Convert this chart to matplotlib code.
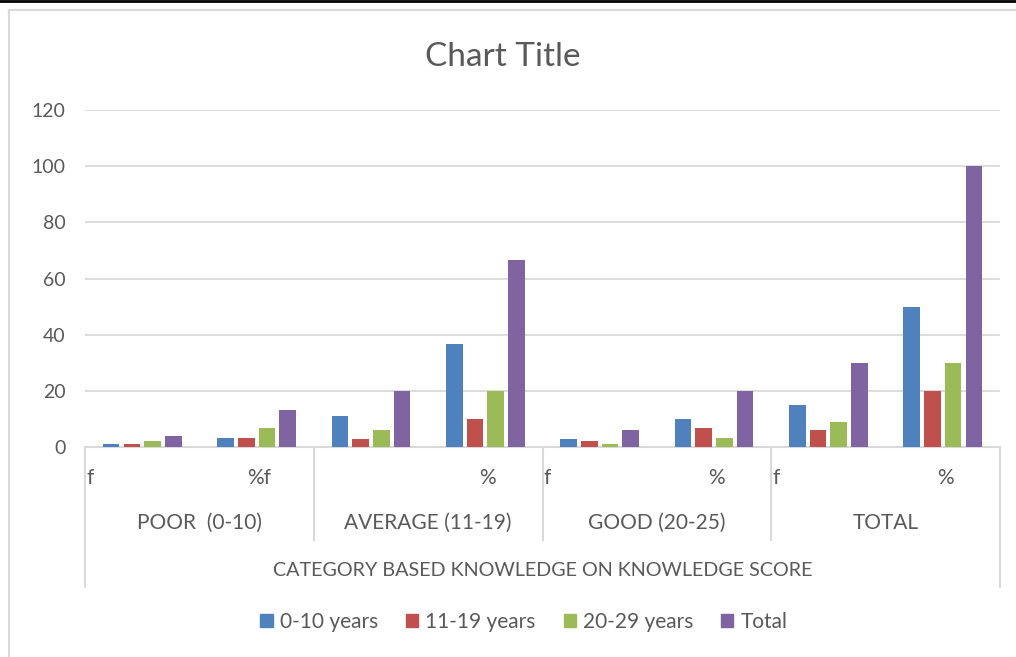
import numpy as np
import matplotlib.pyplot as plt
from matplotlib.lines import Line2D
from matplotlib.patches import Patch

plt.rcParams['font.family'] = ['Lato', 'DejaVu Sans']

# -----------------------------
# Data
# -----------------------------
level1 = ["f", "%f", "", "%", "f", "%", "f", "%"]
level2 = ["POOR  (0-10)", "AVERAGE (11-19)", "GOOD (20-25)", "TOTAL"]
level3 = "CATEGORY BASED KNOWLEDGE ON KNOWLEDGE SCORE"

series_names = ["0-10 years", "11-19 years", "20-29 years", "Total"]
yrs_0_10 = [1, 3.3, 11, 36.7, 3, 10, 15, 50]
yrs_11_19 = [1, 3.3, 3, 10, 2, 6.7, 6, 20]
yrs_20_29 = [2, 6.7, 6, 20, 1, 3.3, 9, 30]
total = [4, 13.3, 20, 66.7, 6, 20, 30, 100]

colors = ["#4F81BD", "#C0504D", "#9BBB59", "#8064A2"]
txt = "#595959"
grid_c = "#D9D9D9"

# -----------------------------
# Figure
# -----------------------------
W, H = 1016, 657
fig = plt.figure(figsize=(W / 100, H / 100), dpi=100)
ax = fig.add_axes([85 / W, (H - 447) / H, (1000 - 85) / W, (447 - 110) / H])

x = np.arange(len(level1))
step, width = 0.181, 0.145
for k, (vals, c) in enumerate(zip([yrs_0_10, yrs_11_19, yrs_20_29, total], colors)):
    ax.bar(x + (k - 1.5) * step, vals, width=width, color=c, label=series_names[k], zorder=3)

ax.set_xlim(-0.5, len(level1) - 0.5)
ax.set_ylim(0, 120)
ax.set_yticks(range(0, 121, 20))
ax.yaxis.grid(True, color=grid_c, linewidth=1.3, zorder=0)
ax.tick_params(axis="y", length=0, pad=14, labelsize=14, labelcolor=txt)
ax.set_xticks([])
for s in ["top", "right", "left"]:
    ax.spines[s].set_visible(False)
ax.spines["bottom"].set_color(grid_c)
ax.spines["bottom"].set_linewidth(1.5)

# multi-level category axis
tr = ax.get_xaxis_transform()
ax_h = 447 - 110
y_inner = -(540 - 447) / ax_h
y_outer = -(587 - 447) / ax_h
for b in [-0.5, 1.5, 3.5, 5.5, 7.5]:
    y_end = y_outer if b in (-0.5, 7.5) else y_inner
    ax.plot([b, b], [0, y_end], transform=tr, color=grid_c, lw=1.5, clip_on=False)

fs = 15
y1 = -(478 - 447) / ax_h
for i, lab in enumerate(level1):
    if lab == "f":
        ax.text(i - 0.5 + 0.01, y1, lab, transform=tr, ha="left", va="center",
                fontsize=fs, color=txt)
    else:
        ax.text(i + 0.02, y1, lab, transform=tr, ha="center", va="center",
                fontsize=fs, color=txt)

y2 = -(523 - 447) / ax_h
for j, lab in enumerate(level2):
    ax.text(2 * j + 0.5, y2, lab, transform=tr, ha="center", va="center",
            fontsize=fs, color=txt)

y3 = -(571 - 447) / ax_h
ax.text((len(level1) - 1) / 2, y3, level3, transform=tr, ha="center", va="center",
        fontsize=14.2, color=txt)

# title
fig.text(503 / W, (H - 57) / H, "Chart Title", ha="center", va="center",
         fontsize=24, color=txt)

# legend
handles = [Patch(color=c) for c in colors]
fig.legend(handles, series_names, loc="center", bbox_to_anchor=(524 / W, (H - 622) / H),
           ncol=4, frameon=False, fontsize=fs, labelcolor=txt,
           handlelength=0.58, handleheight=0.58, handletextpad=0.34, columnspacing=1.35)

# chart area border and top rule
fig.add_artist(Line2D([9 / W, 9 / W], [0, (H - 10) / H], color=grid_c, lw=1.5))
fig.add_artist(Line2D([9 / W, 1], [(H - 10) / H, (H - 10) / H], color=grid_c, lw=1.5))
fig.add_artist(Line2D([0, 1], [(H - 1) / H, (H - 1) / H], color="black", lw=2))

fig.savefig("out.png", dpi=100)
